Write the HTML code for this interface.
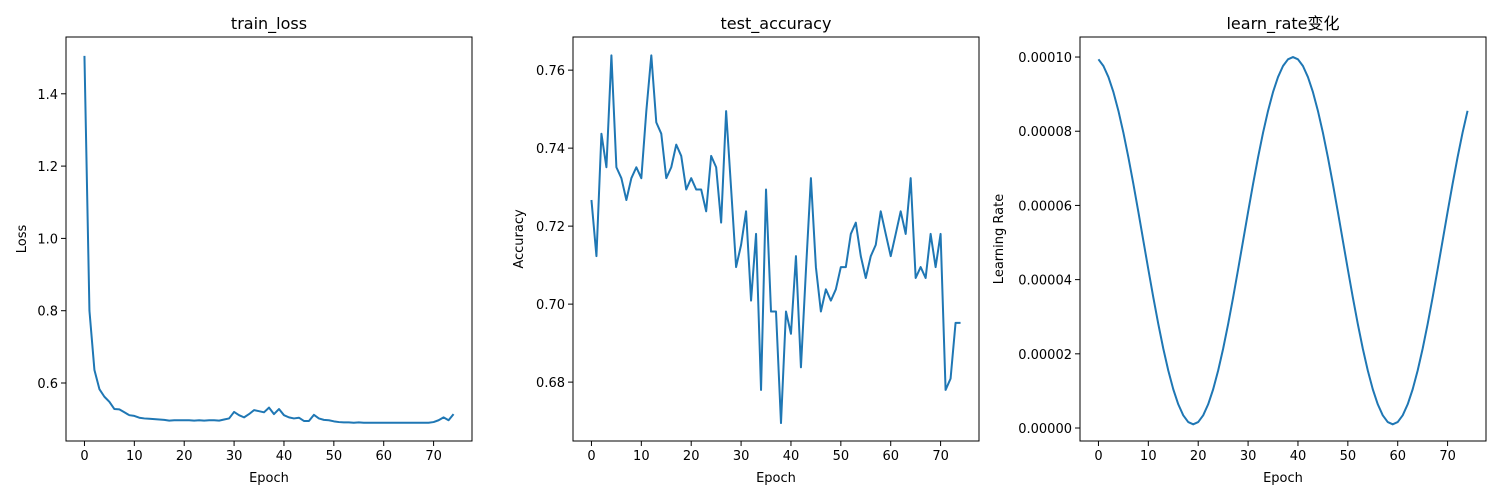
<!DOCTYPE html>
<html><head><meta charset="utf-8">
<style>
html,body{margin:0;padding:0;background:#fff;}
svg{display:block;font-family:"DejaVu Sans","Liberation Sans","Noto Sans CJK SC",sans-serif;}
</style></head>
<body>
<svg id="fig" width="1500" height="500" viewBox="0 0 1500 500"></svg>
<script>
const epochs = Array.from({length:75},(_,i)=>i);
const lossValues = [1.505,0.80,0.636,0.583,0.562,0.548,0.528,0.527,0.519,0.511,0.509,0.504,0.502,0.501,0.500,0.499,0.498,0.496,0.497,0.497,0.497,0.497,0.496,0.497,0.496,0.497,0.497,0.496,0.499,0.502,0.520,0.511,0.505,0.514,0.525,0.522,0.519,0.532,0.514,0.528,0.511,0.505,0.502,0.504,0.495,0.495,0.512,0.502,0.498,0.497,0.494,0.492,0.491,0.491,0.490,0.491,0.490,0.490,0.490,0.490,0.490,0.490,0.490,0.490,0.490,0.490,0.490,0.490,0.490,0.490,0.492,0.497,0.505,0.497,0.514];
const accValues = [0.7267,0.7123,0.7437,0.7351,0.7638,0.7351,0.7323,0.7267,0.7323,0.7351,0.7323,0.7495,0.7638,0.7466,0.7437,0.7323,0.7351,0.7409,0.7380,0.7294,0.7323,0.7294,0.7294,0.7238,0.7380,0.7351,0.7209,0.7495,0.7296,0.7095,0.7152,0.7238,0.7009,0.7180,0.6780,0.7294,0.6981,0.6981,0.6695,0.6981,0.6924,0.7123,0.6838,0.7086,0.7323,0.7095,0.6981,0.7038,0.7009,0.7038,0.7095,0.7095,0.7180,0.7209,0.7123,0.7067,0.7123,0.7152,0.7238,0.7180,0.7123,0.7180,0.7238,0.7180,0.7323,0.7067,0.7095,0.7067,0.7180,0.7095,0.7180,0.6780,0.6809,0.6952,0.6952];
const lrValuesE5 = [9.939,9.758,9.460,9.055,8.550,7.960,7.297,6.580,5.824,5.050,4.276,3.520,2.803,2.140,1.550,1.045,0.640,0.342,0.161,0.100,0.161,0.342,0.640,1.045,1.550,2.140,2.803,3.520,4.276,5.050,5.824,6.580,7.297,7.960,8.550,9.055,9.460,9.758,9.939,10.000,9.939,9.758,9.460,9.055,8.550,7.960,7.297,6.580,5.824,5.050,4.276,3.520,2.803,2.140,1.550,1.045,0.640,0.342,0.161,0.100,0.161,0.342,0.640,1.045,1.550,2.140,2.803,3.520,4.276,5.050,5.824,6.580,7.297,7.960,8.550];
const xTicks = [0,10,20,30,40,50,60,70];
const lossTicks = [0.6,0.8,1.0,1.2,1.4];
const lossTickLabels = ["0.6","0.8","1.0","1.2","1.4"];
const accTicks = [0.68,0.70,0.72,0.74,0.76];
const accTickLabels = ["0.68","0.70","0.72","0.74","0.76"];
const lrTicks = [0,2,4,6,8,10];
const lrTickLabels = ["0.00000","0.00002","0.00004","0.00006","0.00008","0.00010"];

const NS="http://www.w3.org/2000/svg";
const fig=document.getElementById('fig');
function mk(tag,attrs,parent){const e=document.createElementNS(NS,tag);for(const k in attrs)e.setAttribute(k,attrs[k]);(parent||fig).appendChild(e);return e;}

function panel(o){
  const g=mk('g',{});
  
  
  const L=o.left,R=o.left+406,T=37,B=441;
  const xs=v=>L+(v-(-3.7))/(77.7-(-3.7))*(R-L);
  const ys=v=>B-(v-o.ymin)/(o.ymax-o.ymin)*(B-T);
  xTicks.forEach(t=>{
    const x=xs(t);
    const ln=mk('line',{x1:x,x2:x,y1:B,y2:B+5,stroke:'#000','stroke-width':1},g);
    
    
    const tx=mk('text',{x:x,y:B+19,'font-size':13,'text-anchor':'middle',fill:'#000'},g);
    tx.textContent=t;
    
    
  });
  o.yTicks.forEach((t,i)=>{
    const y=ys(t);
    const ln=mk('line',{x1:L-5,x2:L,y1:y,y2:y,stroke:'#000','stroke-width':1},g);
    
    
    const tx=mk('text',{x:L-8,y:y+5,'font-size':13,'text-anchor':'end',fill:'#000'},g);
    tx.textContent=o.yLabels[i];
    
    
  });
  const d=epochs.map((e,i)=>(i?'L':'M')+xs(e).toFixed(2)+','+ys(o.vals[i]).toFixed(2)).join(' ');
  const p=mk('path',{d:d,fill:'none',stroke:'#1f77b4','stroke-width':2,'stroke-linejoin':'round'},g);
  
  
  const fr=mk('rect',{x:L,y:T,width:R-L,height:B-T,fill:'none',stroke:'#000','stroke-width':1},g);
  
  
  const ti=mk('text',{x:(L+R)/2,y:29,'font-size':16,'text-anchor':'middle',fill:'#000'},g);
  ti.textContent=o.title;
  
  
  const xl=mk('text',{x:(L+R)/2,y:482,'font-size':13,'text-anchor':'middle',fill:'#000'},g);
  xl.textContent='Epoch';
  
  
  const yl=mk('text',{x:0,y:0,'font-size':13,'text-anchor':'middle',fill:'#000',transform:`translate(${o.ylx},${(T+B)/2}) rotate(-90)`},g);
  yl.textContent=o.ylabel;
  
  
}
panel({name:'train-loss',left:66,title:'train_loss',ylabel:'Loss',ylx:26,vals:lossValues,ymin:0.4396,ymax:1.5571,yTicks:lossTicks,yLabels:lossTickLabels});
panel({name:'test-accuracy',left:573,title:'test_accuracy',ylabel:'Accuracy',ylx:523,vals:accValues,ymin:0.6649,ymax:0.7685,yTicks:accTicks,yLabels:accTickLabels});
panel({name:'learn-rate',left:1080,title:'learn_rate变化',ylabel:'Learning Rate',ylx:1003,vals:lrValuesE5,ymin:-0.35,ymax:10.54,yTicks:lrTicks,yLabels:lrTickLabels});
</script>
</body></html>
